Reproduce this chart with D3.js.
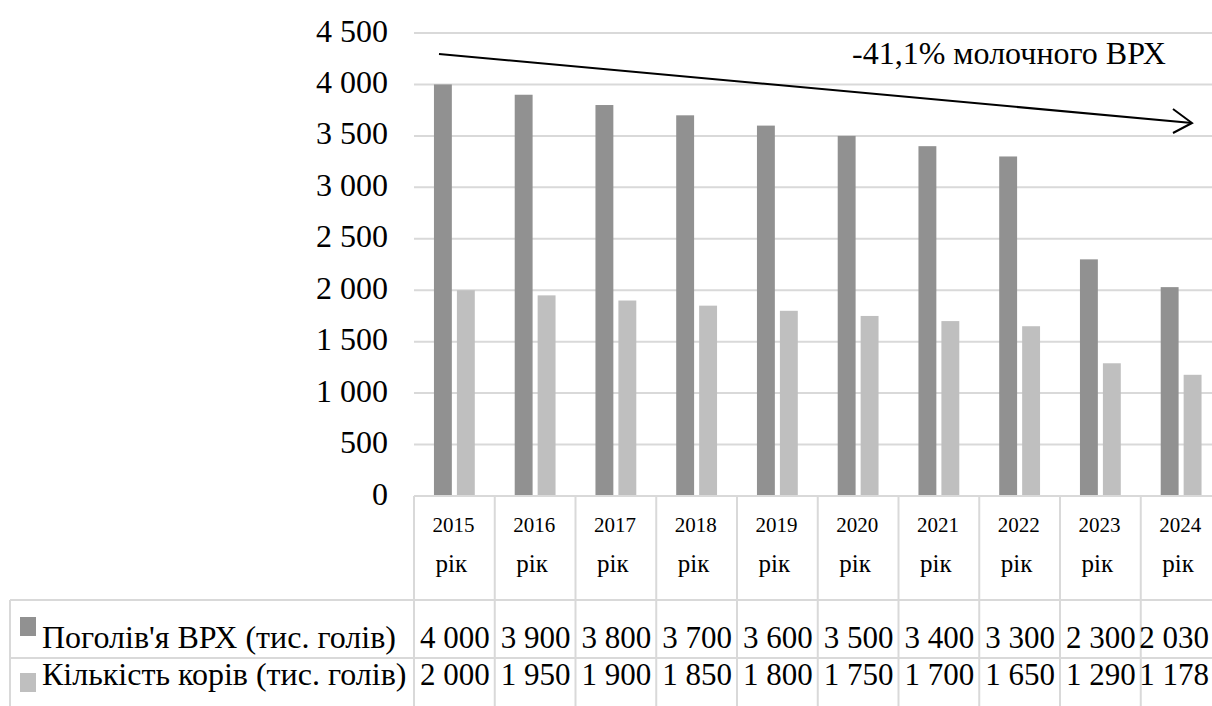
<!DOCTYPE html>
<html>
<head>
<meta charset="utf-8">
<script src="https://cdn.jsdelivr.net/npm/d3@7"></script>
<style>
  html, body { margin: 0; padding: 0; background: #fff; overflow: hidden; }
  svg { display: block; }
  svg text { font-family: "Liberation Serif", "Tinos", "Times New Roman", "DejaVu Serif", serif; }
</style>
</head>
<body>
<svg id="chart" width="1212" height="706"></svg>
<script>
const years = ["2015", "2016", "2017", "2018", "2019", "2020", "2021", "2022", "2023", "2024"];
const yearSuffix = "рік";
const seriesNames = ["Поголів'я ВРХ (тис. голів)", "Кількість корів (тис. голів)"];
const cattle = [4000, 3900, 3800, 3700, 3600, 3500, 3400, 3300, 2300, 2030];
const cows = [2000, 1950, 1900, 1850, 1800, 1750, 1700, 1650, 1290, 1178];
const yTicks = [0, 500, 1000, 1500, 2000, 2500, 3000, 3500, 4000, 4500];
const annotation = "-41,1% молочного ВРХ";

const colors = ["#919191", "#bfbfbf"];
const gridColor = "#d9d9d9";

const svg = d3.select("#chart");
const loc = d3.formatLocale({ decimal: ",", thousands: "\u00a0", grouping: [3], currency: ["", ""] });
const fmt = loc.format(",");

const W = 1212;
const plotLeft = 414, plotRight = 1221.5, plotTop = 33, plotBottom = 496;
const x0 = d3.scaleBand().domain(years).range([plotLeft, plotRight]).padding(0);
const x1 = d3.scaleBand().domain([0, 1]).range([0, x0.bandwidth()]).paddingInner(0.22).paddingOuter(0.87);
const y = d3.scaleLinear().domain([0, 4500]).range([plotBottom, plotTop]);

// gridlines
svg.append("g").selectAll("line").data(yTicks.filter(d => d > 0)).join("line")
  .attr("x1", plotLeft).attr("x2", plotRight)
  .attr("y1", d => y(d)).attr("y2", d => y(d))
  .attr("stroke", gridColor).attr("stroke-width", 2);

// y axis labels
const yAxis = d3.axisLeft(y).tickValues(yTicks).tickFormat(fmt).tickSize(0).tickPadding(0);
const gy = svg.append("g").attr("transform", `translate(388,0)`).call(yAxis);
gy.attr("font-family", null).attr("font-size", null);
gy.select(".domain").remove();
gy.selectAll("text").attr("font-size", 32)
  .attr("fill", "#000").attr("dy", "0.25em").attr("x", 0);

// bars
const data = [cattle, cows];
const groups = svg.append("g").selectAll("g").data(years).join("g")
  .attr("transform", d => `translate(${x0(d)},0)`);
groups.selectAll("rect").data((d, i) => [0, 1].map(s => ({ s, v: data[s][i] }))).join("rect")
  .attr("x", d => x1(d.s)).attr("width", x1.bandwidth())
  .attr("y", d => y(d.v)).attr("height", d => y(0) - y(d.v))
  .attr("fill", d => colors[d.s]);

// table lines
const tableLeft = 10, rowTop = 600, rowMid = 658, tableBottom = 707;
const tl = svg.append("g").attr("stroke", gridColor).attr("stroke-width", 2).attr("fill", "none");
tl.append("line").attr("x1", plotLeft).attr("x2", plotRight).attr("y1", plotBottom).attr("y2", plotBottom);
tl.append("line").attr("x1", tableLeft).attr("x2", plotRight).attr("y1", rowTop).attr("y2", rowTop);
tl.append("line").attr("x1", tableLeft).attr("x2", plotRight).attr("y1", rowMid).attr("y2", rowMid);
tl.append("line").attr("x1", tableLeft).attr("x2", plotRight).attr("y1", tableBottom).attr("y2", tableBottom);
tl.append("line").attr("x1", tableLeft).attr("x2", tableLeft).attr("y1", rowTop).attr("y2", tableBottom);
tl.selectAll(".vl").data(years).join("line").attr("class", "vl")
  .attr("x1", d => x0(d)).attr("x2", d => x0(d)).attr("y1", plotBottom).attr("y2", tableBottom);
tl.append("line").attr("x1", plotRight).attr("x2", plotRight).attr("y1", plotBottom).attr("y2", tableBottom);

// category labels
const cat = svg.append("g").attr("text-anchor", "middle").attr("fill", "#000");
cat.selectAll(".yr").data(years).join("text").attr("class", "yr")
  .attr("x", d => x0(d) + x0.bandwidth() / 2 - 1).attr("y", 532)
  .attr("font-size", 21).text(d => d);
cat.selectAll(".rk").data(years).join("text").attr("class", "rk")
  .attr("x", d => x0(d) + x0.bandwidth() / 2 - 3).attr("y", 572)
  .attr("font-size", 25).text(yearSuffix);

// table values (right-aligned in each cell, kept inside the visible width)
const rowBase = [648, 685];
data.forEach((arr, s) => {
  svg.append("g").attr("text-anchor", "end").selectAll("text").data(arr).join("text")
    .attr("x", (d, i) => Math.min(x0(years[i]) + x0.bandwidth() - 5, W - 3))
    .attr("y", rowBase[s]).attr("font-size", 31).attr("fill", "#000")
    .text(d => fmt(d));
});

// legend in table
const leg = svg.append("g");
seriesNames.forEach((n, s) => {
  leg.append("rect").attr("x", 20).attr("y", [617, 673][s]).attr("width", 16).attr("height", 19).attr("fill", colors[s]);
  leg.append("text").attr("x", 42).attr("y", rowBase[s]).attr("font-size", 32).attr("fill", "#000").text(n);
});

// annotation arrow
const arr = svg.append("g").attr("stroke", "#000").attr("stroke-width", 2).attr("fill", "none");
arr.append("line").attr("x1", 439).attr("y1", 54).attr("x2", 1192).attr("y2", 123);
arr.append("polyline").attr("points", "1173,109 1192,123 1173,133");
svg.append("text").attr("x", 852).attr("y", 64).attr("font-size", 32).attr("fill", "#000").text(annotation);
</script>
</body>
</html>
